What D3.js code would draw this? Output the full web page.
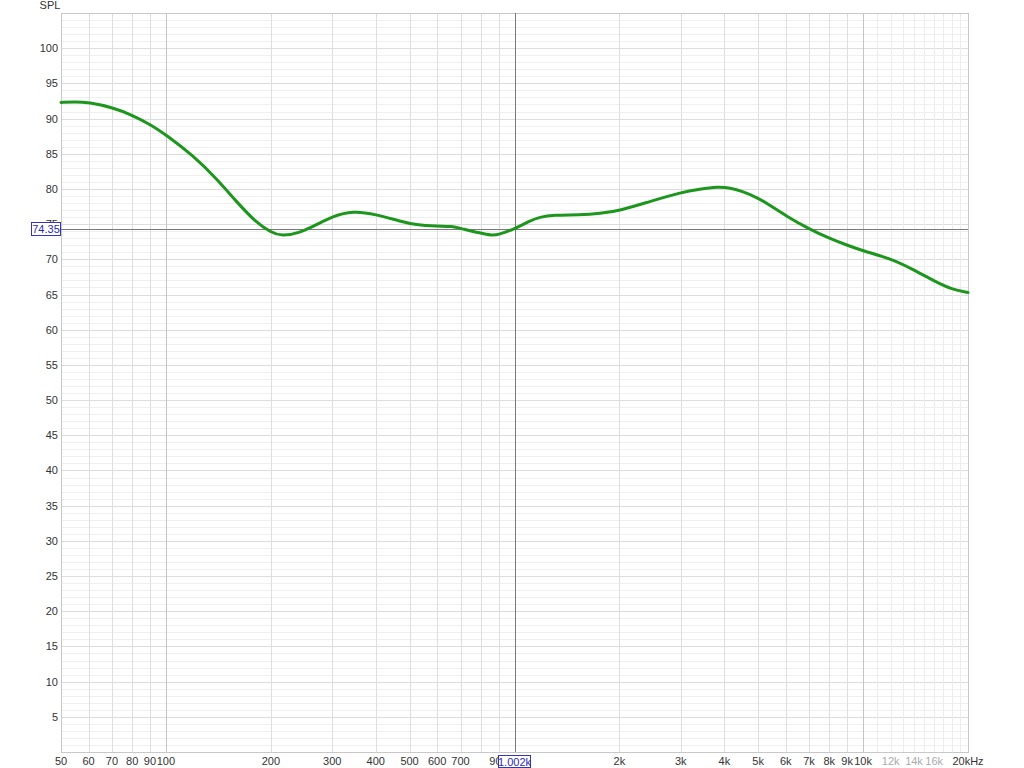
<!DOCTYPE html>
<html>
<head>
<meta charset="utf-8">
<script src="https://cdn.jsdelivr.net/npm/d3@7"></script>
<style>
  body { margin: 0; background: #fff; }
  text { font-family: "Liberation Sans", Arial, Helvetica, sans-serif; font-size: 11px; }
</style>
</head>
<body>
<svg width="1024" height="768"></svg>
<script>
// frequency response (Hz, dB SPL)
var freqs = [50, 55, 60, 70, 80, 90, 100, 120, 140, 160, 180, 200, 215, 240, 270, 300, 344, 400, 470, 520, 600, 660, 700, 800, 860, 900, 1000, 1110, 1180, 1290, 1540, 1760, 2000, 2440, 3000, 3400, 3850, 4100, 4500, 5000, 5400, 6000, 7000, 8000, 9000, 10000, 12000, 14000, 16000, 18000, 20000];
var spl   = [92.3, 92.4, 92.3, 91.6, 90.5, 89.2, 87.7, 84.7, 81.4, 78.1, 75.4, 73.8, 73.3, 73.7, 74.9, 76.1, 76.9, 76.4, 75.4, 74.9, 74.7, 74.7, 74.4, 73.7, 73.4, 73.5, 74.3, 75.5, 76.0, 76.3, 76.3, 76.5, 76.9, 78.2, 79.5, 80.0, 80.3, 80.2, 79.7, 78.7, 77.7, 76.2, 74.3, 73.0, 72.0, 71.2, 70.1, 68.5, 66.9, 65.7, 65.3];

var yTicks = [5, 10, 15, 20, 25, 30, 35, 40, 45, 50, 55, 60, 65, 70, 75, 80, 85, 90, 95, 100];
var xTicks = [50, 60, 70, 80, 90, 100, 200, 300, 400, 500, 600, 700, 900, 2000, 3000, 4000, 5000, 6000, 7000, 8000, 9000, 10000, 12000, 14000, 16000, 20000];
var xTickLabels = ["50", "60", "70", "80", "90", "100", "200", "300", "400", "500", "600", "700", "900", "2k", "3k", "4k", "5k", "6k", "7k", "8k", "9k", "10k", "12k", "14k", "16k", "20kHz"];
var greyLabels = [12000, 14000, 16000];
var cursorFreq = 1002, cursorSpl = 74.35;

var svg = d3.select("svg"),
    plotL = 61, plotR = 968, plotT = 13, plotB = 752;

var x = d3.scaleLog().domain([50, 20000]).range([plotL, plotR]);
var y = d3.scaleLinear().domain([0, 105]).range([plotB, plotT]);

// vertical grid lines: 1-2-..-9 per decade, 11k..19k in the last one
var vLines = [];
[10, 100, 1000].forEach(function(d) {
  for (var m = 1; m < 10; m++) if (d * m >= 50) vLines.push(d * m);
});
for (var k = 10000; k <= 20000; k += 1000) vLines.push(k);

function px(v) { return Math.round(v) + 0.5; }

var grid = svg.append("g").attr("class", "grid");

grid.selectAll(".hline")
    .data(d3.range(1, 105))
  .enter().append("line")
    .attr("x1", plotL).attr("x2", plotR)
    .attr("y1", function(d) { return px(y(d)); })
    .attr("y2", function(d) { return px(y(d)); })
    .attr("stroke", function(d) { return d % 5 === 0 ? "#dcdcdc" : "#efefef"; });

grid.selectAll(".vline")
    .data(vLines)
  .enter().append("line")
    .attr("y1", plotT).attr("y2", plotB)
    .attr("x1", function(d) { return px(x(d)); })
    .attr("x2", function(d) { return px(x(d)); })
    .attr("stroke", function(d) {
      if (d === 100 || d === 10000) return "#c4c4c4";
      if (d > 10000 && d < 20000) return "#ececec";
      return "#dedede";
    });

// frame
svg.append("rect")
    .attr("x", plotL + 0.5).attr("y", plotT + 0.5)
    .attr("width", plotR - plotL).attr("height", plotB - plotT)
    .attr("fill", "none")
    .attr("stroke", "#c8c8c8");

// cursor lines
svg.append("line")
    .attr("x1", plotL).attr("x2", plotR)
    .attr("y1", px(y(cursorSpl))).attr("y2", px(y(cursorSpl)))
    .attr("stroke", "#7a7a7a");
svg.append("line")
    .attr("y1", plotT).attr("y2", plotB)
    .attr("x1", px(x(cursorFreq))).attr("x2", px(x(cursorFreq)))
    .attr("stroke", "#7a7a7a");

// curve
var line = d3.line()
    .x(function(d, i) { return x(freqs[i]); })
    .y(function(d) { return y(d); })
    .curve(d3.curveBasis);

svg.append("path")
    .datum(spl)
    .attr("fill", "none")
    .attr("stroke", "#1c961c")
    .attr("stroke-width", 3)
    .attr("stroke-linejoin", "round")
    .attr("stroke-linecap", "round")
    .attr("d", line);

// axis labels
svg.append("text")
    .attr("x", 50).attr("y", 9)
    .attr("text-anchor", "middle")
    .attr("fill", "#333")
    .text("SPL");

svg.selectAll(".ylab")
    .data(yTicks)
  .enter().append("text")
    .attr("x", 58)
    .attr("y", function(d) { return y(d) + 4; })
    .attr("text-anchor", "end")
    .attr("fill", "#333")
    .text(function(d) { return d; });

svg.selectAll(".xlab")
    .data(xTicks)
  .enter().append("text")
    .attr("x", function(d) { return x(d); })
    .attr("y", 765)
    .attr("text-anchor", "middle")
    .attr("fill", function(d) { return greyLabels.indexOf(d) >= 0 ? "#aaa" : "#333"; })
    .text(function(d, i) { return xTickLabels[i]; });

// cursor value boxes
var yBox = svg.append("g").attr("transform", "translate(31," + Math.round(y(cursorSpl) - 7) + ")");
yBox.append("rect").attr("x", 0.5).attr("y", 0.5).attr("width", 29).attr("height", 13)
    .attr("fill", "#fff").attr("stroke", "#3333bb");
yBox.append("text").attr("x", 15).attr("y", 11).attr("text-anchor", "middle")
    .attr("fill", "#2a2ab8").text(cursorSpl.toFixed(2));

var xBox = svg.append("g").attr("transform", "translate(" + Math.round(x(cursorFreq) - 17) + ",755)");
xBox.append("rect").attr("x", 0.5).attr("y", 0.5).attr("width", 32).attr("height", 12)
    .attr("fill", "#fff").attr("stroke", "#3333bb");
xBox.append("text").attr("x", 16.5).attr("y", 10.5).attr("text-anchor", "middle")
    .attr("fill", "#2a2ab8").text((cursorFreq / 1000).toFixed(3) + "k");
</script>
</body>
</html>
